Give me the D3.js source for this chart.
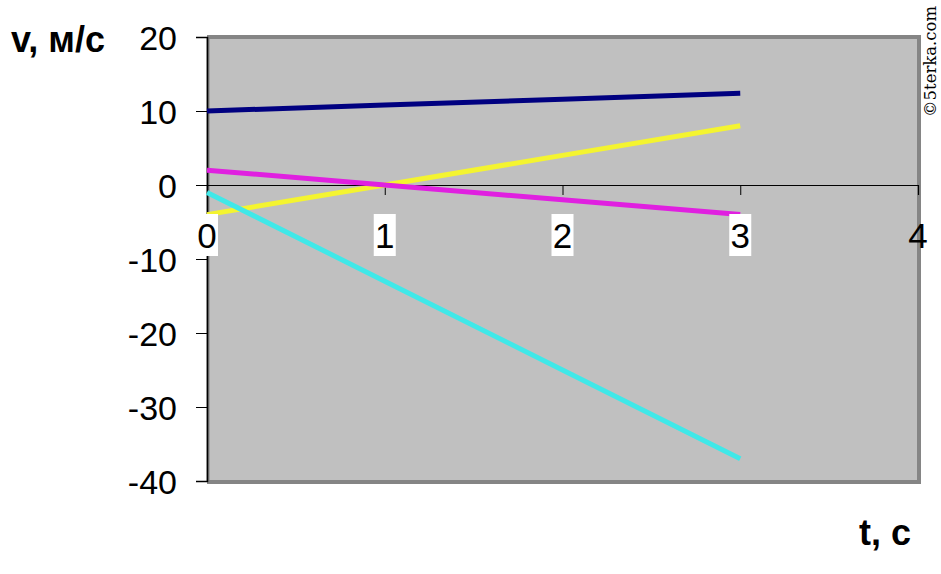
<!DOCTYPE html>
<html><head><meta charset="utf-8">
<script src="https://cdn.jsdelivr.net/npm/d3@7"></script>
<style>body{margin:0;background:#fff;}svg{display:block;}</style>
</head><body>
<svg id="c" width="941" height="574"></svg>
<script>
const tValues = [0, 1, 2, 3];
const navySeries = [10, 10.8, 11.6, 12.4];
const yellowSeries = [-4, 0, 4, 8];
const magentaSeries = [2, 0, -2, -4];
const cyanSeries = [-1, -13, -25, -37];
const xTicks = [0, 1, 2, 3, 4];
const yTicks = [20, 10, 0, -10, -20, -30, -40];
const seriesList = [
  {name: "navy", values: navySeries, color: "#000080"},
  {name: "yellow", values: yellowSeries, color: "#f4f430"},
  {name: "magenta", values: magentaSeries, color: "#e020e0"},
  {name: "cyan", values: cyanSeries, color: "#40e8e8"}
];

(function () {
const svg = d3.select("#c");
const pl = 207, pr = 918, pt = 37, pb = 481;
const x = d3.scaleLinear().domain([0, 4]).range([pl, pr]);
const y = d3.scaleLinear().domain([-40, 20]).range([pb, pt]);
const font = "Liberation Sans, Arial, sans-serif";

// plot area with shadow borders
svg.append("rect").attr("x", pl).attr("y", pt).attr("width", pr - pl).attr("height", pb - pt)
  .attr("fill", "#c0c0c0");
svg.append("line").attr("x1", pl).attr("x2", pr + 2).attr("y1", pt).attr("y2", pt)
  .attr("stroke", "#858585").attr("stroke-width", 4);
svg.append("line").attr("x1", pr + 1).attr("x2", pr + 1).attr("y1", pt - 2).attr("y2", pb + 3)
  .attr("stroke", "#858585").attr("stroke-width", 4);
svg.append("line").attr("x1", pl).attr("x2", pr + 3).attr("y1", pb + 1).attr("y2", pb + 1)
  .attr("stroke", "#858585").attr("stroke-width", 4);
svg.append("line").attr("x1", pl + 1).attr("x2", pl + 1).attr("y1", pt).attr("y2", pb)
  .attr("stroke", "#808080").attr("stroke-width", 3);

// y axis
const yAxis = d3.axisLeft(y).tickValues(yTicks).tickSize(11).tickPadding(19).tickFormat(d3.format("d"));
const gy = svg.append("g").attr("transform", `translate(${pl},0)`).call(yAxis);
gy.select(".domain").attr("stroke", "#000").attr("stroke-width", 1.5);
gy.selectAll(".tick line").attr("stroke", "#000");
gy.selectAll("text").attr("font-family", font).attr("font-size", 34).attr("fill", "#000")
  .text(d => d < 0 ? "-" + Math.abs(d) : d).attr("dy", "0.36em");

// x axis at y=0
const xAxis = d3.axisBottom(x).tickValues(xTicks).tickSize(10).tickPadding(0).tickFormat(d3.format("d"));
const gx = svg.append("g").attr("transform", `translate(0,${y(0)})`).call(xAxis);
gx.select(".domain").attr("stroke", "#000").attr("stroke-width", 1.2);
gx.selectAll(".tick line").attr("stroke", "#000");
gx.selectAll(".tick text").remove();

// lines
const line = d3.line().x((d, i) => x(tValues[i])).y(d => y(d));
svg.append("g").selectAll("path").data(seriesList).join("path")
  .attr("d", d => line(d.values)).attr("fill", "none")
  .attr("stroke", d => d.color).attr("stroke-width", 5).attr("stroke-linecap", "butt");

// x tick labels with white backgrounds
const xl = svg.append("g");
xTicks.forEach(t => {
  if (t < 4) {
    xl.append("rect").attr("x", x(t) - 11).attr("y", y(0) + 29).attr("width", 22).attr("height", 42).attr("fill", "#fff");
  }
  xl.append("text").attr("x", x(t)).attr("y", y(0) + 63).attr("text-anchor", "middle")
    .attr("font-family", font).attr("font-size", 35).attr("fill", "#000").text(t);
});

// axis titles
svg.append("text").attr("x", 11).attr("y", 52).attr("font-family", font).attr("font-size", 36)
  .attr("font-weight", "bold").attr("fill", "#000").text("v, м/с");
svg.append("text").attr("x", 859).attr("y", 545).attr("font-family", font).attr("font-size", 36)
  .attr("font-weight", "bold").attr("fill", "#000").text("t, с");

// watermark
svg.append("text").attr("transform", "translate(936,117) rotate(-90)")
  .attr("font-family", "DejaVu Serif, Liberation Serif, serif").attr("font-size", 16.5).attr("fill", "#000")
  .text("©5terka.com");
})();
</script>
</body></html>
